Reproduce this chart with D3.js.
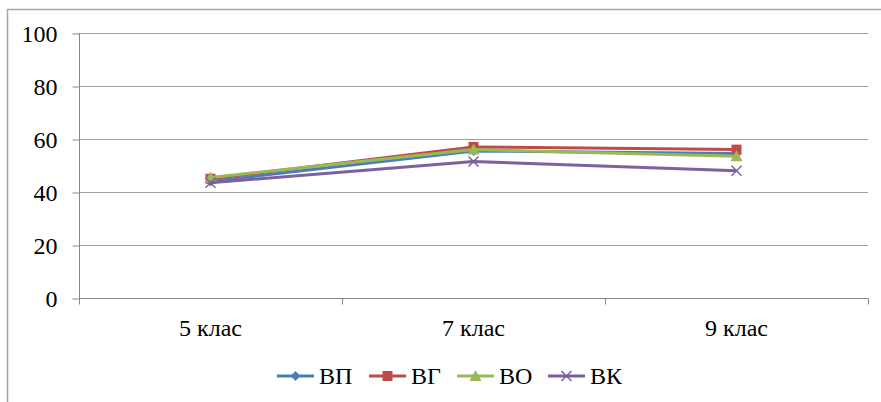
<!DOCTYPE html>
<html>
<head>
<meta charset="utf-8">
<script src="https://cdn.jsdelivr.net/npm/d3@7"></script>
<style>
  body { margin: 0; background: #fff; }
  svg { display: block; }
  text { font-family: "Liberation Serif", "Times New Roman", serif; }
</style>
</head>
<body>
<div id="container"></div>
<script>
// Класи та значення серій
const classes = ["5 клас", "7 клас", "9 клас"]
const seriesNames = ["ВП", "ВГ", "ВО", "ВК"]
const vpValues = [44, 55.5, 54.5]
const vgValues = [45, 57, 56]
const voValues = [45.5, 56, 53.5]
const vkValues = [43.5, 51.5, 48]
const yTicks = [0, 20, 40, 60, 80, 100]

const colors = ["#4A7EBB", "#BE4B48", "#98B954", "#7D60A0"]
const shapes = ["diamond", "square", "triangle", "cross"]
const font = "Liberation Serif"

const series = seriesNames.map((name, i) => ({
    name, color: colors[i], shape: shapes[i],
    values: [vpValues, vgValues, voValues, vkValues][i]
}))

const w = 881, h = 402
const m = { left: 79, right: 868, top: 33, bottom: 298 }

const svg = d3.select("#container").append("svg").attr("width", w).attr("height", h)

// рамка діаграми (обрізана справа і знизу)
svg.append("path").attr("d", `M7.5,${h} V9.5 H${w}`).attr("fill", "none").attr("stroke", "#a6a6a6").attr("stroke-width", 1.5)

const x = d3.scaleBand().domain(classes).range([m.left, m.right])
const y = d3.scaleLinear().domain([0, 100]).range([m.bottom, m.top])

// сітка
svg.append("g").selectAll("line").data(yTicks.filter(d => d > 0)).enter().append("line")
    .attr("x1", m.left).attr("x2", m.right)
    .attr("y1", d => y(d) + 0.5).attr("y2", d => y(d) + 0.5)
    .attr("stroke", "#a0a0a0").attr("stroke-width", 1)

const yAxis = svg.append("g").attr("transform", `translate(${m.left + 0.5},0.5)`)
    .call(d3.axisLeft(y).tickValues(yTicks).tickSize(7).tickPadding(15))
yAxis.attr("font-family", font).attr("font-size", 24)
yAxis.select(".domain").remove()
yAxis.append("line").attr("y1", m.top).attr("y2", m.bottom).attr("stroke", "#888")
yAxis.selectAll(".tick line").attr("stroke", "#888")
yAxis.selectAll("text").attr("fill", "#000").attr("font-family", font).attr("font-size", 24)

const xAxis = svg.append("g").attr("transform", `translate(0,${m.bottom + 0.5})`)
xAxis.append("line").attr("x1", m.left).attr("x2", m.right).attr("stroke", "#888")
const bounds = classes.map(c => x(c)).concat([m.right])
xAxis.selectAll(".tk").data(bounds).enter().append("line")
    .attr("x1", d => d + 0.5).attr("x2", d => d + 0.5).attr("y1", 0).attr("y2", 6).attr("stroke", "#888")
xAxis.selectAll("text").data(classes).enter().append("text")
    .attr("x", d => x(d) + x.bandwidth() / 2).attr("y", 37)
    .attr("text-anchor", "middle").attr("font-family", font).attr("font-size", 24).text(d => d)

const cx = d => x(d) + x.bandwidth() / 2

function marker(g, shape, color) {
    if (shape === "diamond") g.append("path").attr("d", "M0,-5L5,0L0,5L-5,0Z").attr("fill", color)
    else if (shape === "square") g.append("rect").attr("x", -5).attr("y", -5).attr("width", 10).attr("height", 10).attr("fill", color)
    else if (shape === "triangle") g.append("path").attr("d", "M0,-6L6,5L-6,5Z").attr("fill", color)
    else g.append("path").attr("d", "M-5,-5L5,5M-5,5L5,-5").attr("stroke", color).attr("stroke-width", 1.5)
}

const line = d3.line().x((d, i) => cx(classes[i])).y(d => y(d))

series.forEach(s => {
    svg.append("path").attr("d", line(s.values)).attr("fill", "none")
        .attr("stroke", s.color).attr("stroke-width", 3).attr("stroke-linejoin", "round")
    s.values.forEach((v, i) => {
        const g = svg.append("g").attr("transform", `translate(${cx(classes[i])},${y(v)})`)
        marker(g, s.shape, s.color)
    })
})

// легенда
const legendX = [277, 369, 457, 548]
const legend = svg.append("g").attr("transform", "translate(0,376)")
series.forEach((s, i) => {
    const g = legend.append("g").attr("transform", `translate(${legendX[i]},0)`)
    g.append("line").attr("x1", 0).attr("x2", 37).attr("stroke", s.color).attr("stroke-width", 3)
    const mg = g.append("g").attr("transform", "translate(18.5,0)")
    marker(mg, s.shape, s.color)
    g.append("text").attr("x", 42).attr("y", 8).attr("font-family", font).attr("font-size", 24).text(s.name)
})
</script>
</body>
</html>
